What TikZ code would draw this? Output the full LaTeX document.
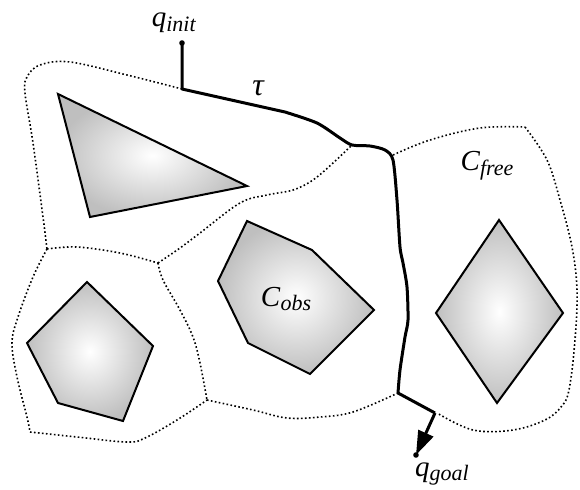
\documentclass[tikz,border=0pt]{standalone}
\usepackage{fontspec}
\setmainfont{LiberationSerif}[Extension=.ttf, UprightFont=*-Regular, ItalicFont=*-Italic, BoldFont=*-Bold]
\usetikzlibrary{arrows.meta}
\newcommand{\csym}[2]{\textit{#1}\raisebox{-0.35ex}{\fontsize{11}{12}\selectfont\textit{#2}}}

\begin{document}
\begin{tikzpicture}[x=0.5pt, y=-0.5pt,
    obstacle/.style={draw=black, line width=1pt, inner color=white, outer color=gray!50},
    cell/.style={line width=0.8pt, dash pattern=on 0.8pt off 1.2pt},
    route/.style={line width=1.5pt, line join=round},
    pt/.style={circle, fill=black, inner sep=0pt, minimum size=2.8pt},
    lbl/.style={font=\fontsize{14.5}{16}\selectfont, inner sep=0pt}]
  \useasboundingbox (0,0) rectangle (580,489);

  % obstacles
  \shadedraw[obstacle] (58,94) -- (247,186) -- (90,217) -- cycle;
  \shadedraw[obstacle] (87,282) -- (153,346) -- (123,421) -- (58,403) -- (27,343) -- cycle;
  \shadedraw[obstacle] (247,221) -- (312,250) -- (374,310) -- (310,374) -- (248,343) -- (218,281) -- cycle;
  \shadedraw[obstacle] (499,220) -- (563,313) -- (497,403) -- (436,313) -- cycle;

  % cell boundaries
  \draw[cell] plot[smooth, tension=0.6] coordinates {(182,89) (127,75) (70,62) (40,65) (27,77) (25,93) (33,143) (43,217) (47,249)};
  \draw[cell] plot[smooth, tension=0.6] coordinates {(47,249) (77,247) (120,253) (158,263)};
  \draw[cell] plot[smooth, tension=0.6] coordinates {(47,249) (33,277) (18,317) (12,343) (17,377) (27,417) (30,432)};
  \draw[cell] plot[smooth, tension=0.6] coordinates {(30,432) (77,437) (127,442) (145,438) (177,420) (207,400)};
  \draw[cell] plot[smooth, tension=0.6] coordinates {(158,263) (163,280) (180,310) (193,337) (200,363) (207,400)};
  \draw[cell] plot[smooth, tension=0.6] coordinates {(207,400) (253,410) (287,418) (320,417) (353,412) (398,393)};
  \draw[cell] plot[smooth, tension=0.6] coordinates {(158,263) (180,248) (200,233) (240,203) (267,195) (293,190) (313,180) (333,163) (352,145)};
  \draw[cell] plot[smooth, tension=0.6] coordinates {(393,155) (430,140) (480,128) (525,127)};
  \draw[cell] plot[smooth, tension=0.6] coordinates {(525,127) (547,160) (560,200) (572,247) (577,290) (575,340) (569,390) (561,407) (545,420) (513,430) (473,430) (437,413)};

  % path tau
  \node[pt] (qinitpt) at (182,43) {};
  \node[pt] (qgoalpt) at (416,455) {};
  \coordinate (start) at (182,89);
  \coordinate (exit) at (435,413);
  \draw[route] (qinitpt.center) -- (start) -- (285,112)
    plot[smooth, tension=0.45] coordinates {(285,112) (317,123) (340,138) (352,145) (370,146) (385,150) (393,160) (397,200) (400,247) (403,263) (407,287) (408,320) (405,337) (400,370) (398,393)}
    -- (exit);
  \draw[route, -{Triangle[length=12pt, width=8pt]}] (exit) -- (qgoalpt.center);

  % labels
  \node[lbl] (qinit) at (174,23) {\csym{q}{init}};
  \node[lbl] (qgoal) at (442,474) {\csym{q}{goal}};
  \node[lbl, font=\fontsize{16}{16}\selectfont\itshape] (tau) at (258,88) {τ};
  \node[lbl] (cfree) at (487,166) {\csym{C}{free}};
  \node[lbl] (cobs) at (286,299) {\csym{C}{obs}};
\end{tikzpicture}
\end{document}
